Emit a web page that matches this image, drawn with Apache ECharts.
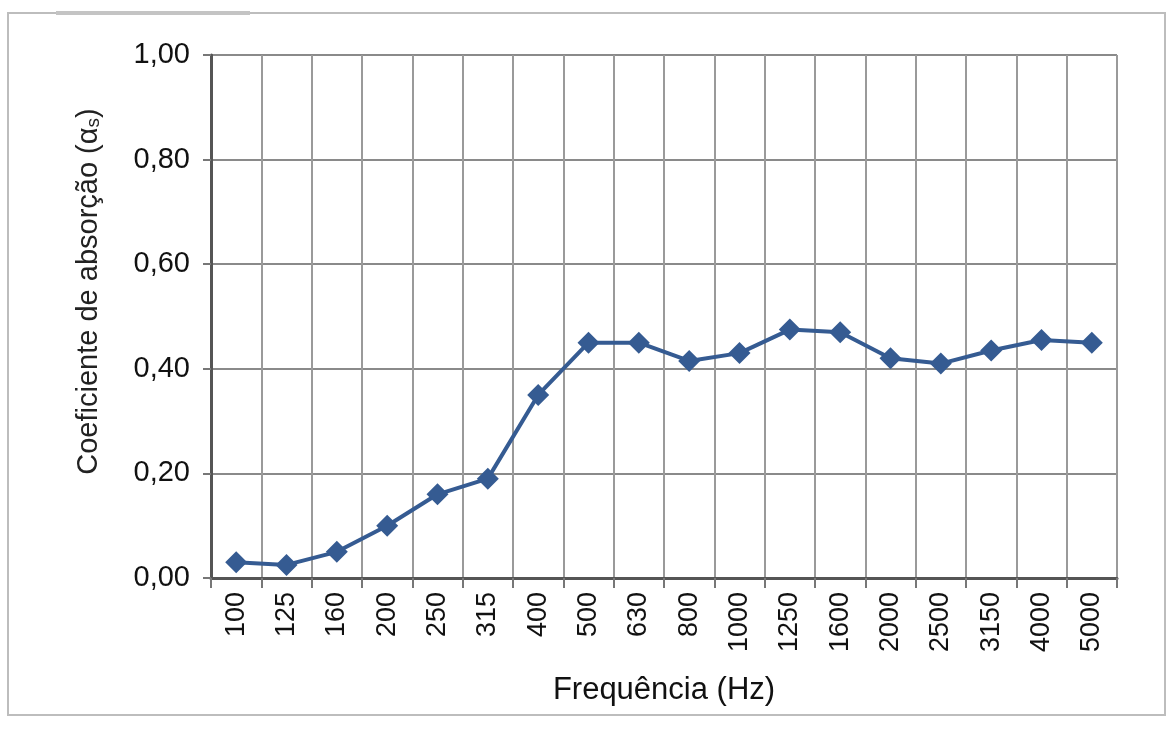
<!DOCTYPE html>
<html><head><meta charset="utf-8">
<script src="https://cdn.jsdelivr.net/npm/echarts@6/dist/echarts.min.js"></script>
<style>html,body{margin:0;padding:0;background:#fff}#c{width:1171px;height:739px}</style>
</head><body><div id="c"></div>
<script>
const categories = ['100','125','160','200','250','315','400','500','630','800','1000','1250','1600','2000','2500','3150','4000','5000'];
const absorption = [0.03,0.025,0.05,0.10,0.16,0.19,0.35,0.45,0.45,0.415,0.43,0.475,0.47,0.42,0.41,0.435,0.455,0.45];
const yTicks = {min:0, max:1, interval:0.2};

const chart = echarts.init(document.getElementById('c'));
chart.setOption({
  animation:false,
  backgroundColor:'#fff',
  graphic:[
    {type:'rect', shape:{x:8,y:13,width:1157,height:702}, style:{fill:'none', stroke:'#bdbdbd', lineWidth:2}},
    {type:'line', shape:{x1:56,y1:13,x2:250,y2:13}, style:{stroke:'#c4c4c4', lineWidth:4}}
  ],
  grid:{left:211, right:54, top:55, bottom:161},
  xAxis:{
    type:'category', data:categories, boundaryGap:true,
    name:'Frequência (Hz)', nameLocation:'middle', nameGap:97,
    nameTextStyle:{fontFamily:'Liberation Sans', fontSize:31, color:'#111'},
    axisLine:{lineStyle:{color:'#555', width:3}},
    axisTick:{show:true, interval:0, length:10, lineStyle:{color:'#777', width:2}},
    axisLabel:{rotate:90, interval:0, margin:14, fontFamily:'Liberation Sans', fontSize:27, color:'#111'},
    splitLine:{show:true, interval:0, lineStyle:{color:'#9a9a9a', width:2}}
  },
  yAxis:{
    type:'value', min:yTicks.min, max:yTicks.max, interval:yTicks.interval,
    name:'Coeficiente de absorção (α{sub|s})', nameLocation:'middle', nameGap:108,
    nameTextStyle:{fontFamily:'Liberation Sans', fontSize:29, color:'#222', padding:[0,0,0,50],
      rich:{sub:{fontFamily:'Liberation Sans', fontSize:19, color:'#222', verticalAlign:'bottom', padding:[10,0,0,0]}}},
    axisLine:{show:true, lineStyle:{color:'#555', width:3}},
    axisTick:{show:true, length:8, lineStyle:{color:'#777', width:2}},
    axisLabel:{margin:21, fontFamily:'Liberation Sans', fontSize:29, color:'#111',
      formatter:v=>v.toFixed(2).replace('.',',')},
    splitLine:{show:true, lineStyle:{color:'#8a8a8a', width:2}}
  },
  series:[{
    type:'line', data:absorption, symbol:'diamond', symbolSize:22,
    lineStyle:{color:'#355b92', width:4}, itemStyle:{color:'#355b92'}
  }]
});
</script></body></html>
